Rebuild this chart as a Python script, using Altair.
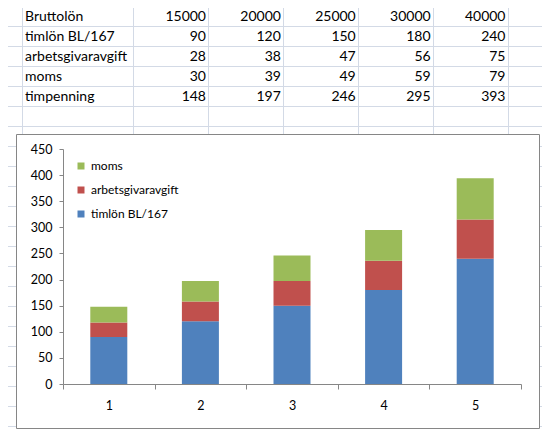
import altair as alt
import pandas as pd

# Kalkylbladets rader (Bruttolön överst, timpenning = summan)
bruttolon = [15000, 20000, 25000, 30000, 40000]
timlon = [90, 120, 150, 180, 240]
arbetsgivaravgift = [28, 38, 47, 56, 75]
moms = [30, 39, 49, 59, 79]
timpenning = [148, 197, 246, 295, 393]
row_labels = ["Bruttolön", "timlön BL/167", "arbetsgivaravgift", "moms", "timpenning"]

# Diagrammet
categories = [1, 2, 3, 4, 5]
series_names = ["moms", "arbetsgivaravgift", "timlön BL/167"]
series_colors = ["#9BBB59", "#C0504D", "#4F81BD"]
y_ticks = [0, 50, 100, 150, 200, 250, 300, 350, 400, 450]

FONT = "Lato"
SHEET_GRID = "#d3dae6"
AXIS_GRAY = "#868686"

# layout i sidpixlar (referensbildens koordinater)
PLOT_X0, PLOT_Y0 = 63, 149
PLOT_W, PLOT_H = 458, 235
BOX = (16, 134, 539, 428)
SHEET_COLS = [22.5, 133.5, 208.5, 283.5, 358.5, 433.5, 508.5]
SHEET_ROWS = [6.5 + 20 * k for k in range(22)]

# tabell i långt format
table_rows = []
for label, vals in zip(row_labels, [bruttolon, timlon, arbetsgivaravgift, moms, timpenning]):
    for c, v in enumerate(vals):
        table_rows.append({"row": label, "col": c, "val": v})
table_df = pd.DataFrame(table_rows)
label_df = pd.DataFrame({"row": row_labels})

# staplar
bar_rows = []
for name, vals, order in [("timlön BL/167", timlon, 0),
                          ("arbetsgivaravgift", arbetsgivaravgift, 1),
                          ("moms", moms, 2)]:
    for cat, v in zip(categories, vals):
        bar_rows.append({"n": cat, "serie": name, "värde": v, "ord": order})
bar_df = pd.DataFrame(bar_rows)

# rutnätet i kalkylbladet, utan att gå igenom diagramrutan
segs = []
bx0, by0, bx1, by1 = BOX
for y in SHEET_ROWS:
    if by0 < y < by1:
        segs.append((0, bx0, y, y))
        segs.append((bx1, 550, y, y))
    else:
        segs.append((0, 550, y, y))
for x in SHEET_COLS:
    segs.append((x, x, 0, by0))
    segs.append((x, x, by1, 441))
seg_df = pd.DataFrame([{"x": a - PLOT_X0, "x2": b - PLOT_X0,
                        "y": c - PLOT_Y0, "y2": d - PLOT_Y0} for a, b, c, d in segs])

sheet = alt.Chart(seg_df).mark_rule(color=SHEET_GRID, strokeWidth=1).encode(
    x=alt.X("x:Q", scale=None, axis=None),
    x2="x2:Q",
    y=alt.Y("y:Q", scale=None, axis=None),
    y2="y2:Q",
)

row_scale = alt.Scale(type="point", domain=row_labels, range=[-132, -52], padding=0)

labels = alt.Chart(label_df).mark_text(
    align="left", baseline="middle", font=FONT, fontSize=14, color="black"
).encode(
    x=alt.value(25 - PLOT_X0),
    y=alt.Y("row:N", scale=row_scale, axis=None),
    text="row:N",
)

values = alt.Chart(table_df).mark_text(
    align="right", baseline="middle", font=FONT, fontSize=14, color="black"
).encode(
    x=alt.X("col:O", scale=alt.Scale(type="point", domain=[0, 1, 2, 3, 4],
                                     range=[206 - PLOT_X0, 505.5 - PLOT_X0], padding=0),
            axis=None),
    y=alt.Y("row:N", scale=row_scale, axis=None),
    text="val:Q",
)

box_df = pd.DataFrame({"x": [bx0 + 0.5 - PLOT_X0], "x2": [bx1 + 0.5 - PLOT_X0],
                       "y": [by0 + 0.5 - PLOT_Y0], "y2": [by1 + 0.5 - PLOT_Y0]})
box = alt.Chart(box_df).mark_rect(fill="white", fillOpacity=0, stroke=AXIS_GRAY, strokeWidth=1).encode(
    x=alt.X("x:Q", scale=None, axis=None),
    x2="x2:Q",
    y=alt.Y("y:Q", scale=None, axis=None),
    y2="y2:Q",
)

bars = alt.Chart(bar_df).mark_bar(size=37).encode(
    x=alt.X("n:O", title=None,
            scale=alt.Scale(paddingInner=0, paddingOuter=0),
            axis=alt.Axis(labelAngle=0, tickBand="extent", tickSize=5, labelPadding=10,
                          domainColor=AXIS_GRAY, tickColor=AXIS_GRAY, grid=False,
                          labelFont=FONT, labelFontSize=12.5, labelColor="black")),
    y=alt.Y("värde:Q", stack="zero", title=None,
            scale=alt.Scale(domain=[0, 450], nice=False),
            axis=alt.Axis(values=y_ticks, tickSize=4, labelPadding=7,
                          domainColor=AXIS_GRAY, tickColor=AXIS_GRAY,
                          gridColor=AXIS_GRAY, gridWidth=1,
                          labelFont=FONT, labelFontSize=12.5, labelColor="black")),
    color=alt.Color("serie:N", scale=alt.Scale(domain=series_names, range=series_colors),
                    legend=alt.Legend(orient="none", legendX=12, legendY=11, title=None,
                                      symbolType="square", symbolSize=49, symbolStrokeWidth=0,
                                      labelFont=FONT, labelFontSize=12, labelColor="black",
                                      labelOffset=4, rowPadding=12, padding=0)),
    order=alt.Order("ord:Q", sort="ascending"),
)

chart = alt.layer(sheet, labels, values, box, bars).resolve_scale(
    x="independent", y="independent"
).properties(
    width=PLOT_W, height=PLOT_H,
    autosize="none",
    padding={"left": PLOT_X0 - 8, "top": PLOT_Y0 - 8,
             "right": 534 - (PLOT_X0 - 8) - PLOT_W, "bottom": 421 - (PLOT_Y0 - 8) - PLOT_H},
    background="white",
).configure_view(strokeWidth=0)

chart.save("out.html", embed_options={"renderer": "svg", "actions": False})
